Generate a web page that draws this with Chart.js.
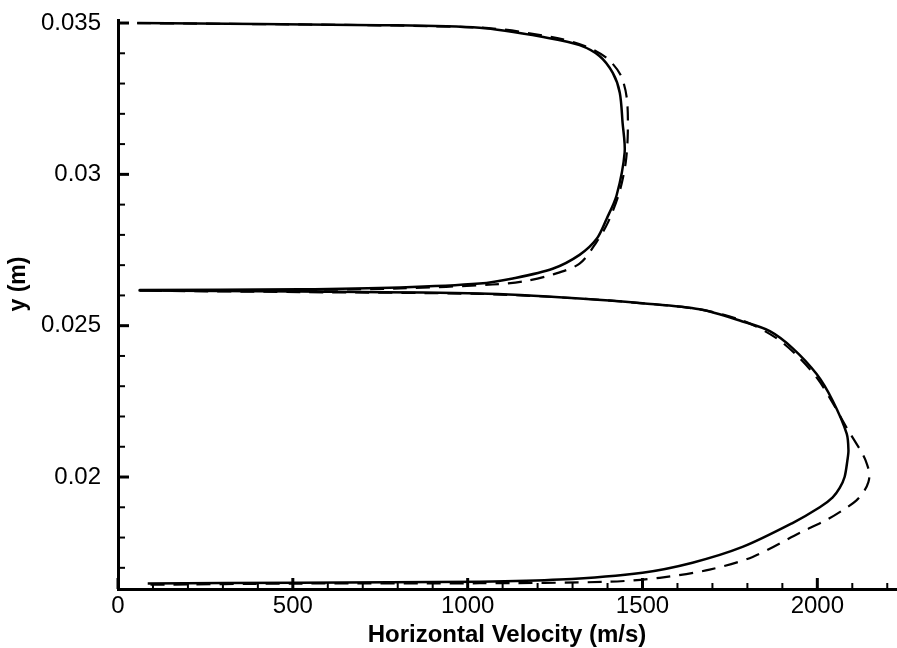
<!DOCTYPE html>
<html>
<head>
<meta charset="utf-8">
<script src="https://cdn.jsdelivr.net/npm/chart.js@4"></script>
<style>
  html, body { margin: 0; padding: 0; background: #fff; }
  #wrap { width: 897px; height: 648px; }
</style>
</head>
<body>
<div id="wrap"><canvas id="chart"></canvas></div>
<script>
// velocity profiles across the channel, listed from the top wall down
const ySolid = [0.0350, 0.03493, 0.03484, 0.03450, 0.03427, 0.03391, 0.03335, 0.03270, 0.03171, 0.03073,
    0.02931, 0.02852, 0.02787, 0.02734, 0.02688, 0.02656, 0.02639, 0.02626, 0.02620, 0.02618,
    0.02616, 0.02613, 0.02606, 0.02590, 0.02574, 0.02554, 0.02514, 0.02482, 0.02426, 0.02340,
    0.02252, 0.02143, 0.02088, 0.02055, 0.02000, 0.01964, 0.01933, 0.01900, 0.01848, 0.01769,
    0.01717, 0.01684, 0.01661, 0.01654, 0.01651, 0.01648]
const vSolid = [55, 748, 1034, 1234, 1320, 1377, 1415, 1435, 1443, 1449,
    1426, 1397, 1369, 1320, 1243, 1129, 1034, 806, 520, 62,
    62, 520, 1034, 1320, 1500, 1663, 1786, 1864, 1929, 1998,
    2044, 2084, 2089, 2086, 2078, 2064, 2044, 2007, 1929, 1786,
    1643, 1500, 1263, 1034, 520, 85]

const yDashed = [0.0350, 0.03485, 0.03453, 0.03424, 0.03384, 0.03329, 0.03253, 0.03138, 0.03039, 0.02941,
    0.02843, 0.02777, 0.02705, 0.02669, 0.02646, 0.02636, 0.02623, 0.02618, 0.02616,
    0.02611, 0.02605, 0.02590, 0.02574, 0.02554, 0.02517, 0.02459, 0.02393, 0.02324, 0.02245,
    0.02163, 0.02081, 0.02055, 0.02012, 0.01983, 0.01956, 0.01923, 0.01890, 0.01858, 0.01815,
    0.01736, 0.01694, 0.01667, 0.01654, 0.01649, 0.01648, 0.01644]
const vDashed = [55, 1034, 1245, 1335, 1398, 1437, 1455, 1458, 1452, 1434,
    1402, 1369, 1320, 1243, 1157, 1071, 806, 520, 62,
    520, 1034, 1320, 1500, 1663, 1786, 1883, 1949, 2001, 2044,
    2084, 2127, 2138, 2149, 2146, 2135, 2112, 2072, 2026, 1949,
    1815, 1692, 1549, 1406, 1034, 520, 85]

const xTicks = [0, 500, 1000, 1500, 2000]
const yTicks = [0.02, 0.025, 0.03, 0.035]

const toPoints = (ys, vs) => ys.map((y, i) => ({ x: vs[i], y: y }))

const font = 'Liberation Sans, Arial, Helvetica, sans-serif'

// tick marks point into the plot, minor every 100 m/s and every 0.001 m
const innerTicks = {
    id: 'innerTicks',
    afterDraw(chart) {
        const c = chart.ctx
        const xs = chart.scales.x
        const ys = chart.scales.y
        const area = chart.chartArea
        c.save()
        c.strokeStyle = '#000'
        for (let v = 0; v <= 2200; v += 100) {
            const px = xs.getPixelForValue(v)
            const major = v % 500 === 0
            c.lineWidth = major ? 3 : 2
            c.beginPath()
            c.moveTo(px, area.bottom)
            c.lineTo(px, area.bottom - (major ? 11 : 6))
            c.stroke()
        }
        for (let k = 17; k <= 35; k++) {
            const py = ys.getPixelForValue(k / 1000)
            const major = k % 5 === 0
            c.lineWidth = major ? 3 : 2
            c.beginPath()
            c.moveTo(area.left, py)
            c.lineTo(area.left + (major ? 11 : 7), py)
            c.stroke()
        }
        // y axis title
        c.translate(19, 284)
        c.rotate(-Math.PI / 2)
        c.fillStyle = '#000'
        c.font = 'bold 23px ' + font
        c.textAlign = 'center'
        c.textBaseline = 'middle'
        c.fillText('y (m)', 0, 0)
        c.restore()
    }
}

const ctx = document.querySelector('#chart')

new Chart(ctx, {
    type: 'scatter',
    data: {
        datasets: [{
            data: toPoints(ySolid, vSolid),
            showLine: true,
            borderColor: '#000',
            borderWidth: 2.5,
            pointRadius: 0,
            tension: 0.3
        }, {
            data: toPoints(yDashed, vDashed),
            showLine: true,
            borderColor: '#000',
            borderWidth: 2.2,
            borderDash: [14, 9],
            pointRadius: 0,
            tension: 0.3
        }]
    },
    options: {
        responsive: true,
        maintainAspectRatio: false,
        animation: false,
        layout: { padding: { top: 20, right: 1, left: 0, bottom: 0 } },
        plugins: {
            legend: { display: false },
            tooltip: { enabled: false }
        },
        scales: {
            x: {
                type: 'linear',
                min: 0,
                max: 2225,
                grid: { display: false },
                border: { display: true, color: '#000', width: 3 },
                afterBuildTicks(scale) {
                    scale.ticks = xTicks.map(v => ({ value: v }))
                },
                ticks: {
                    autoSkip: false,
                    padding: -5,
                    color: '#000',
                    font: { family: font, size: 24 },
                    maxRotation: 0,
                    callback: v => String(v)
                },
                title: {
                    display: true,
                    text: 'Horizontal Velocity (m/s)',
                    color: '#000',
                    font: { family: font, size: 24, weight: 'bold' },
                    padding: { top: 0, bottom: -2 }
                },
                afterFit(scale) {
                    scale.height = 59
                    scale.paddingLeft = 0
                    scale.paddingRight = 0
                }
            },
            y: {
                type: 'linear',
                min: 0.0163,
                max: 0.0351,
                grid: { display: false },
                border: { display: true, color: '#000', width: 3 },
                afterBuildTicks(scale) {
                    scale.ticks = yTicks.map(v => ({ value: v }))
                },
                ticks: {
                    autoSkip: false,
                    padding: 9,
                    color: '#000',
                    font: { family: font, size: 24 },
                    callback: v => String(v)
                },
                afterFit(scale) {
                    scale.width = 118
                    scale.paddingTop = 0
                    scale.paddingBottom = 0
                }
            }
        }
    },
    plugins: [innerTicks]
})
</script>
</body>
</html>
